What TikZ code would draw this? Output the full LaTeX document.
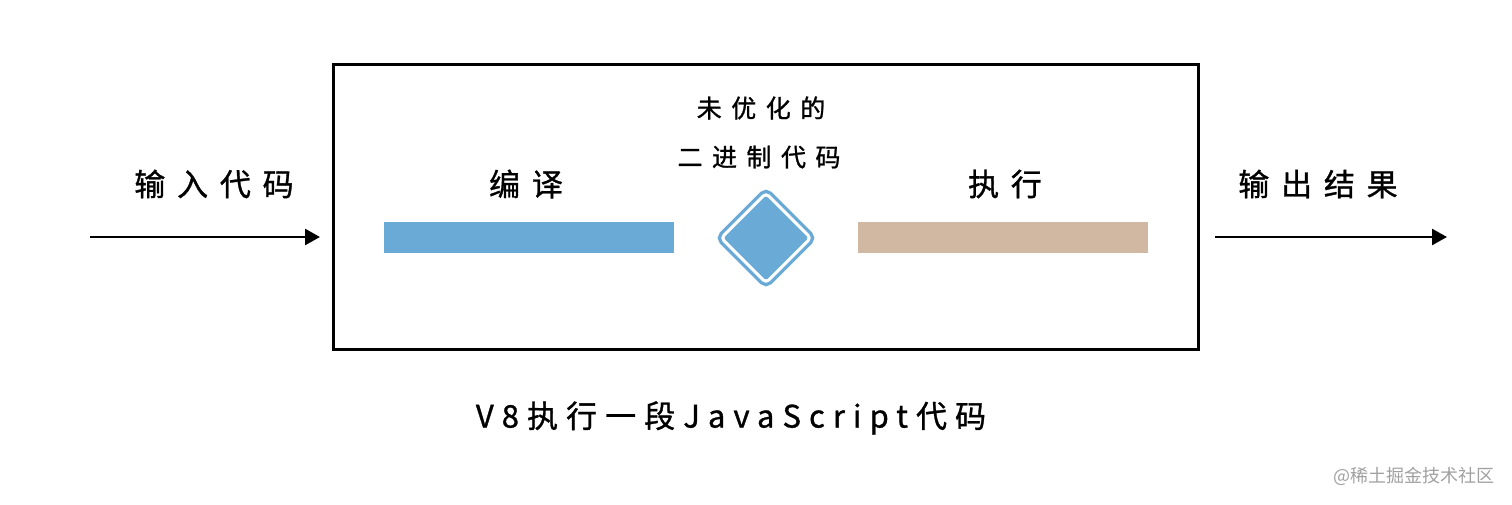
\documentclass[tikz,border=0pt]{standalone}
\usepackage{fontspec}
\usetikzlibrary{arrows.meta,shapes.geometric}
\newfontfamily\cjk[LetterSpace=38,FakeBold=1]{Noto Sans CJK SC}
\newfontfamily\cjkcap[LetterSpace=26,FakeBold=1]{Noto Sans CJK SC}
\newfontfamily\cjkplain{Noto Sans CJK SC}
\definecolor{barblue}{RGB}{106,170,214}
\definecolor{bartan}{RGB}{208,184,162}
\definecolor{wmgray}{RGB}{160,160,160}
\tikzset{
  lbl/.style={font=\cjk\fontsize{31}{36}\selectfont, inner sep=0pt, anchor=center},
  smalllbl/.style={font=\cjk\fontsize{25}{30}\selectfont, inner sep=0pt, anchor=center},
  flowarrow/.style={line width=2.6pt, -{Triangle[length=15pt,width=16pt]}},
  bar/.style={draw=none, inner sep=0pt, minimum height=31pt, minimum width=290pt},
}
\begin{document}
\begin{tikzpicture}[x=1pt,y=-1pt]
\useasboundingbox (0,0) rectangle (1512,504);
% main frame
\node[draw, line width=3pt, minimum width=865pt, minimum height=285pt, inner sep=0pt] (frame) at (765.5,206.5) {};
% labels
\node[lbl] (in) at (214,184) {输入代码};
\node[lbl] (out) at (1318,184) {输出结果};
\node[lbl] (comp) at (526,184) {编译};
\node[lbl] (exec) at (1005,184) {执行};
\node[smalllbl] (l1) at (761,108) {未优化的};
\node[smalllbl] (l2) at (759,157) {二进制代码};
% bars
\node[bar, fill=barblue] (cbar) at (529,237.5) {};
\node[bar, fill=bartan] (ebar) at (1002.5,237.5) {};
% diamond
\node[diamond, minimum width=91pt, minimum height=91pt, inner sep=0pt, fill=barblue,
      draw=barblue, line width=3.4pt, double=white, double distance=3pt, rounded corners=4pt] (dia) at (766,238) {};
% arrows
\coordinate (ls) at (90,237);
\coordinate (le) at (320,237);
\coordinate (rs) at (1215,237);
\coordinate (re) at (1447,237);
\draw[flowarrow] (ls) -- (le);
\draw[flowarrow] (rs) -- (re);
% caption
\node[font=\cjkcap\fontsize{31}{36}\selectfont, inner sep=0pt] (cap) at (731,418) {V8执行一段JavaScript代码};
% watermark
\node[font=\cjkplain\fontsize{18}{22}\selectfont, text=wmgray, inner sep=0pt] (wm) at (1414,476) {@稀土掘金技术社区};
\end{tikzpicture}
\end{document}
